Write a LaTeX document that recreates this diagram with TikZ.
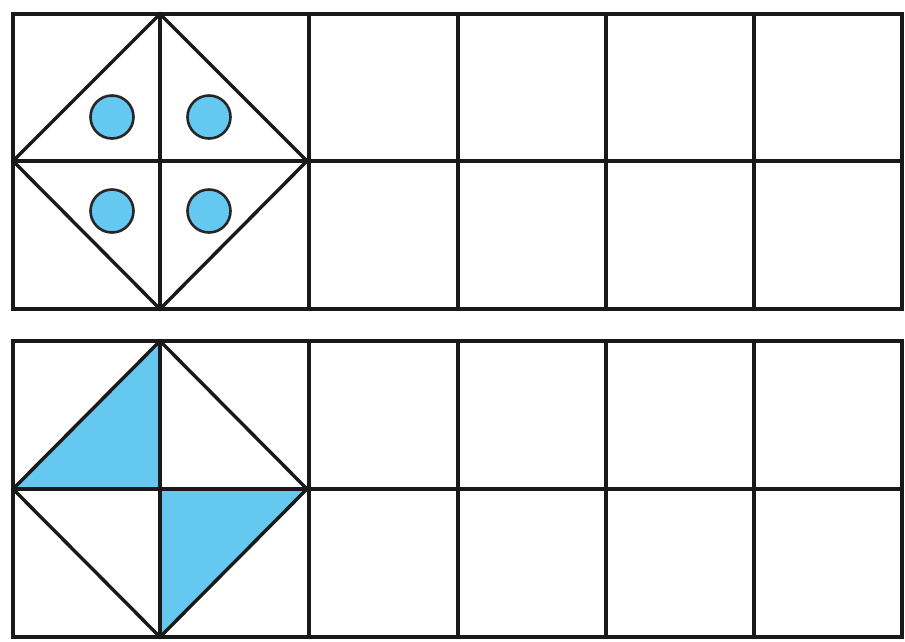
\documentclass[tikz,border=0pt]{standalone}
\usepackage{tikz}
\definecolor{skyfill}{RGB}{100,200,240}
\begin{document}
\begin{tikzpicture}[x=1pt,y=-1pt,
  gridline/.style={line width=3.2pt,draw=black!90,line cap=rect},
  diagline/.style={line width=3.4pt,draw=black!90,line join=miter,line cap=round},
  dotfill/.style={fill=skyfill,draw=black!85,line width=2.6pt}]
\useasboundingbox (0,0) rectangle (905,641);
\fill[white] (0,0) rectangle (905,641);
% ---------- top panel ----------
\foreach \x in {13,160,309,458,606,754,902}
  \draw[gridline] (\x,14) -- (\x,309);
\foreach \y in {14,161,309}
  \draw[gridline] (13,\y) -- (902,\y);
\coordinate (tT) at (160,14);
\coordinate (tL) at (13,161);
\coordinate (tR) at (307,161);
\coordinate (tB) at (160,309);
\draw[diagline] (tT) -- (tR) -- (tB) -- (tL) -- cycle;
\foreach \cx/\cy in {112/117,209/117,112/211,209/211}
  \draw[dotfill] (\cx,\cy) circle (21.5);
% ---------- bottom panel ----------
\coordinate (bT) at (160,341);
\coordinate (bL) at (13,489);
\coordinate (bR) at (307,489);
\coordinate (bB) at (160,637);
\coordinate (bC) at (160,489);
\fill[skyfill] (bT) -- (bL) -- (bC) -- cycle;
\fill[skyfill] (bC) -- (bR) -- (bB) -- cycle;
\foreach \x in {13,160,309,458,606,754,902}
  \draw[gridline] (\x,341) -- (\x,637);
\foreach \y in {341,489,637}
  \draw[gridline] (13,\y) -- (902,\y);
\draw[diagline] (bT) -- (bR) -- (bB) -- (bL) -- cycle;
\end{tikzpicture}
\end{document}
